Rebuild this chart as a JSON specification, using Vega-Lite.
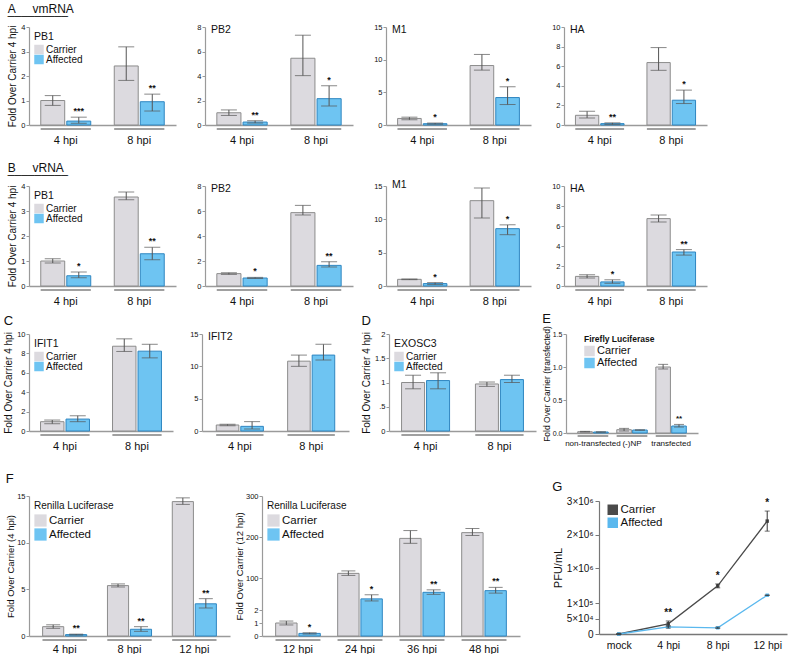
{
  "$schema": "https://vega.github.io/schema/vega-lite/v6.json",
  "padding": {"left": 3, "top": 3, "right": 5, "bottom": 0},
  "background": "white",
  "config": {
    "font": "Liberation Sans",
    "view": {"stroke": null},
    "axis": {"domainColor": "#9a9a9a", "tickColor": "#9a9a9a", "labelColor": "#111", "titleColor": "#111", "grid": false, "titleFontWeight": "normal", "labelOverlap": false},
    "axisY": {"labelFontSize": 7.5, "tickSize": 3, "labelPadding": 1, "titleFontSize": 10, "titlePadding": 3, "domainWidth": 1.2, "labelOverlap": false},
    "axisX": {"ticks": false, "labelFontSize": 11, "labelPadding": 9, "labelAngle": 0, "domainWidth": 1.5},
    "legend": {"orient": "top-left", "offset": 5, "titleFontSize": 10.5, "titleFontWeight": "normal", "titleColor": "#111", "labelFontSize": 10, "labelColor": "#111", "symbolType": "square", "symbolSize": 90, "rowPadding": 0, "titlePadding": 2, "symbolStrokeWidth": 0, "labelOffset": 2, "padding": 0},
    "title": {"fontWeight": "normal", "color": "#111", "anchor": "start"},
    "text": {"color": "#111"}
  },
  "datasets": {
    "bars": [
      {"p":"A-PB1","t":"4 hpi","g":"Carrier","m":1.0,"lo":0.8,"hi":1.2,"s":""},
      {"p":"A-PB1","t":"4 hpi","g":"Affected","m":0.16,"lo":0.07,"hi":0.32,"s":"***"},
      {"p":"A-PB1","t":"8 hpi","g":"Carrier","m":2.41,"lo":1.82,"hi":3.19,"s":""},
      {"p":"A-PB1","t":"8 hpi","g":"Affected","m":0.95,"lo":0.57,"hi":1.26,"s":"**"},
      {"p":"A-PB2","t":"4 hpi","g":"Carrier","m":1.0,"lo":0.78,"hi":1.23,"s":""},
      {"p":"A-PB2","t":"4 hpi","g":"Affected","m":0.24,"lo":0.16,"hi":0.35,"s":"**"},
      {"p":"A-PB2","t":"8 hpi","g":"Carrier","m":5.45,"lo":4.03,"hi":7.33,"s":""},
      {"p":"A-PB2","t":"8 hpi","g":"Affected","m":2.15,"lo":1.56,"hi":3.2,"s":"*"},
      {"p":"A-M1","t":"4 hpi","g":"Carrier","m":1.0,"lo":0.8,"hi":1.2,"s":""},
      {"p":"A-M1","t":"4 hpi","g":"Affected","m":0.2,"lo":0.12,"hi":0.3,"s":"*"},
      {"p":"A-M1","t":"8 hpi","g":"Carrier","m":9.1,"lo":8.4,"hi":10.8,"s":""},
      {"p":"A-M1","t":"8 hpi","g":"Affected","m":4.2,"lo":3.13,"hi":5.85,"s":"*"},
      {"p":"A-HA","t":"4 hpi","g":"Carrier","m":0.99,"lo":0.72,"hi":1.4,"s":""},
      {"p":"A-HA","t":"4 hpi","g":"Affected","m":0.14,"lo":0.06,"hi":0.22,"s":"**"},
      {"p":"A-HA","t":"8 hpi","g":"Carrier","m":6.37,"lo":5.58,"hi":7.9,"s":""},
      {"p":"A-HA","t":"8 hpi","g":"Affected","m":2.53,"lo":2.19,"hi":3.56,"s":"*"},
      {"p":"B-PB1","t":"4 hpi","g":"Carrier","m":1.0,"lo":0.92,"hi":1.09,"s":""},
      {"p":"B-PB1","t":"4 hpi","g":"Affected","m":0.41,"lo":0.33,"hi":0.56,"s":"*"},
      {"p":"B-PB1","t":"8 hpi","g":"Carrier","m":3.56,"lo":3.45,"hi":3.76,"s":""},
      {"p":"B-PB1","t":"8 hpi","g":"Affected","m":1.29,"lo":1.05,"hi":1.55,"s":"**"},
      {"p":"B-PB2","t":"4 hpi","g":"Carrier","m":0.99,"lo":0.93,"hi":1.06,"s":""},
      {"p":"B-PB2","t":"4 hpi","g":"Affected","m":0.64,"lo":0.6,"hi":0.69,"s":"*"},
      {"p":"B-PB2","t":"8 hpi","g":"Carrier","m":5.87,"lo":5.68,"hi":6.45,"s":""},
      {"p":"B-PB2","t":"8 hpi","g":"Affected","m":1.65,"lo":1.52,"hi":1.95,"s":"**"},
      {"p":"B-M1","t":"4 hpi","g":"Carrier","m":1.0,"lo":0.95,"hi":1.05,"s":""},
      {"p":"B-M1","t":"4 hpi","g":"Affected","m":0.36,"lo":0.21,"hi":0.51,"s":"*"},
      {"p":"B-M1","t":"8 hpi","g":"Carrier","m":12.8,"lo":10.2,"hi":14.7,"s":""},
      {"p":"B-M1","t":"8 hpi","g":"Affected","m":8.6,"lo":7.7,"hi":9.17,"s":"*"},
      {"p":"B-HA","t":"4 hpi","g":"Carrier","m":0.96,"lo":0.79,"hi":1.13,"s":""},
      {"p":"B-HA","t":"4 hpi","g":"Affected","m":0.41,"lo":0.27,"hi":0.62,"s":"*"},
      {"p":"B-HA","t":"8 hpi","g":"Carrier","m":6.74,"lo":6.4,"hi":7.1,"s":""},
      {"p":"B-HA","t":"8 hpi","g":"Affected","m":3.4,"lo":3.09,"hi":3.64,"s":"**"},
      {"p":"C-IFIT1","t":"4 hpi","g":"Carrier","m":0.96,"lo":0.75,"hi":1.13,"s":""},
      {"p":"C-IFIT1","t":"4 hpi","g":"Affected","m":1.23,"lo":0.96,"hi":1.57,"s":""},
      {"p":"C-IFIT1","t":"8 hpi","g":"Carrier","m":8.74,"lo":8.2,"hi":9.5,"s":""},
      {"p":"C-IFIT1","t":"8 hpi","g":"Affected","m":8.23,"lo":7.54,"hi":8.94,"s":""},
      {"p":"C-IFIT2","t":"4 hpi","g":"Carrier","m":0.93,"lo":0.83,"hi":1.03,"s":""},
      {"p":"C-IFIT2","t":"4 hpi","g":"Affected","m":0.72,"lo":0.31,"hi":1.45,"s":""},
      {"p":"C-IFIT2","t":"8 hpi","g":"Carrier","m":10.8,"lo":10.0,"hi":11.74,"s":""},
      {"p":"C-IFIT2","t":"8 hpi","g":"Affected","m":11.74,"lo":10.97,"hi":13.4,"s":""},
      {"p":"D","t":"4 hpi","g":"Carrier","m":1.0,"lo":0.87,"hi":1.15,"s":""},
      {"p":"D","t":"4 hpi","g":"Affected","m":1.04,"lo":0.87,"hi":1.2,"s":""},
      {"p":"D","t":"8 hpi","g":"Carrier","m":0.97,"lo":0.92,"hi":1.01,"s":""},
      {"p":"D","t":"8 hpi","g":"Affected","m":1.06,"lo":1.0,"hi":1.15,"s":""},
      {"p":"E","t":"non-transfected","g":"Carrier","m":0.02,"lo":0.015,"hi":0.025,"s":""},
      {"p":"E","t":"non-transfected","g":"Affected","m":0.015,"lo":0.012,"hi":0.018,"s":""},
      {"p":"E","t":"(-)NP","g":"Carrier","m":0.05,"lo":0.03,"hi":0.07,"s":""},
      {"p":"E","t":"(-)NP","g":"Affected","m":0.045,"lo":0.042,"hi":0.048,"s":""},
      {"p":"E","t":"transfected","g":"Carrier","m":1.0,"lo":0.97,"hi":1.04,"s":""},
      {"p":"E","t":"transfected","g":"Affected","m":0.106,"lo":0.09,"hi":0.13,"s":"**"},
      {"p":"F1","t":"4 hpi","g":"Carrier","m":1.0,"lo":0.82,"hi":1.2,"s":""},
      {"p":"F1","t":"4 hpi","g":"Affected","m":0.15,"lo":0.1,"hi":0.2,"s":"**"},
      {"p":"F1","t":"8 hpi","g":"Carrier","m":5.4,"lo":5.25,"hi":5.58,"s":""},
      {"p":"F1","t":"8 hpi","g":"Affected","m":0.72,"lo":0.5,"hi":1.0,"s":"**"},
      {"p":"F1","t":"12 hpi","g":"Carrier","m":14.4,"lo":14.1,"hi":14.8,"s":""},
      {"p":"F1","t":"12 hpi","g":"Affected","m":3.45,"lo":3.0,"hi":4.0,"s":"**"},
      {"p":"F2","t":"12 hpi","g":"Carrier","m":1.0,"lo":0.85,"hi":1.15,"s":""},
      {"p":"F2","t":"12 hpi","g":"Affected","m":0.2,"lo":0.15,"hi":0.25,"s":"*"},
      {"p":"F2","t":"24 hpi","g":"Carrier","m":112,"lo":107,"hi":118,"s":""},
      {"p":"F2","t":"24 hpi","g":"Affected","m":50,"lo":45,"hi":60,"s":"*"},
      {"p":"F2","t":"36 hpi","g":"Carrier","m":197,"lo":185,"hi":216,"s":""},
      {"p":"F2","t":"36 hpi","g":"Affected","m":66,"lo":61,"hi":72,"s":"**"},
      {"p":"F2","t":"48 hpi","g":"Carrier","m":211,"lo":204,"hi":221,"s":""},
      {"p":"F2","t":"48 hpi","g":"Affected","m":70,"lo":64,"hi":78,"s":"**"}
    ],
    "pfu": [
      {"t":"mock","g":"Carrier","v":0,"lo":0,"hi":0,"s":""},
      {"t":"4 hpi","g":"Carrier","v":33000,"lo":26000,"hi":42000,"s":"**"},
      {"t":"8 hpi","g":"Carrier","v":540000,"lo":490000,"hi":590000,"s":"*"},
      {"t":"12 hpi","g":"Carrier","v":2400000,"lo":2100000,"hi":2700000,"s":"*"},
      {"t":"mock","g":"Affected","v":0,"lo":0,"hi":0,"s":""},
      {"t":"4 hpi","g":"Affected","v":23000,"lo":19000,"hi":26000,"s":""},
      {"t":"8 hpi","g":"Affected","v":20000,"lo":18000,"hi":22000,"s":""},
      {"t":"12 hpi","g":"Affected","v":300000,"lo":295000,"hi":305000,"s":""}
    ]
  },
  "vconcat": [
    {
      "vconcat": [
        {
          "vconcat": [
            {
              "hconcat": [
                {
                  "width": 147, "height": 98,
                  "data": {"name": "bars"},
                  "transform": [{"filter": "datum.p == 'A-PB1'"}],
                  "title": {"text": "A\u00a0\u00a0\u00a0\u00a0\u00a0vmRNA", "subtitle": "\u00a0\u00a0\u00a0\u00a0\u00a0\u00a0\u00a0_________", "frame": "bounds", "fontSize": 12, "subtitleFontSize": 12, "subtitleColor": "#111", "subtitlePadding": -11, "offset": 6},
                  "encoding": {"x": {"field": "t", "type": "nominal", "sort": null, "title": null, "scale": {"paddingInner": 0.32, "paddingOuter": 0.16}}},
                  "layer": [
                    {"mark": {"type": "bar", "strokeWidth": 1}, "encoding": {
                      "xOffset": {"field": "g", "sort": ["Carrier", "Affected"], "scale": {"paddingInner": 0.08}},
                      "y": {"field": "m", "type": "quantitative", "scale": {"domain": [0, 4], "nice": false}, "axis": {"values": [0, 1, 2, 3, 4], "format": "d", "tickCount": 20, "labelOverlap": false, "title": "Fold Over Carrier 4 hpi"}},
                      "color": {"field": "g", "type": "nominal", "scale": {"domain": ["Carrier", "Affected"], "range": ["#dcdadf", "#6ec4f2"]}, "legend": {"title": "PB1"}},
                      "stroke": {"field": "g", "type": "nominal", "scale": {"domain": ["Carrier", "Affected"], "range": ["#8c8c8c", "#2f86c1"]}, "legend": null}}},
                    {"mark": {"type": "rule", "color": "#555"}, "encoding": {"xOffset": {"field": "g", "sort": ["Carrier", "Affected"]}, "y": {"field": "lo", "type": "quantitative"}, "y2": {"field": "hi"}}},
                    {"mark": {"type": "tick", "orient": "horizontal", "size": 16, "thickness": 1, "color": "#555"}, "encoding": {"xOffset": {"field": "g", "sort": ["Carrier", "Affected"]}, "y": {"field": "lo", "type": "quantitative"}}},
                    {"mark": {"type": "tick", "orient": "horizontal", "size": 16, "thickness": 1, "color": "#555"}, "encoding": {"xOffset": {"field": "g", "sort": ["Carrier", "Affected"]}, "y": {"field": "hi", "type": "quantitative"}}},
                    {"mark": {"type": "text", "baseline": "bottom", "dy": -1, "fontSize": 9, "fontWeight": "bold"}, "encoding": {"xOffset": {"field": "g", "sort": ["Carrier", "Affected"]}, "y": {"field": "hi", "type": "quantitative"}, "text": {"field": "s"}}},
                    {"mark": {"type": "bar", "width": {"band": 1}, "yOffset": 4, "y2Offset": 4, "fillOpacity": 0, "stroke": "#9a9a9a", "strokeWidth": 1.5}, "encoding": {"y": {"datum": 0, "type": "quantitative"}, "y2": {"datum": 0}}}
                  ]
                },
                {
                  "width": 148, "height": 98,
                  "data": {"name": "bars"},
                  "transform": [{"filter": "datum.p == 'A-PB2'"}],
                  "title": {"text": "PB2", "frame": "group", "fontSize": 10.5, "offset": -12, "dx": 6},
                  "encoding": {"x": {"field": "t", "type": "nominal", "sort": null, "title": null, "scale": {"paddingInner": 0.32, "paddingOuter": 0.16}}},
                  "layer": [
                    {"mark": {"type": "bar", "strokeWidth": 1}, "encoding": {
                      "xOffset": {"field": "g", "sort": ["Carrier", "Affected"], "scale": {"paddingInner": 0.08}},
                      "y": {"field": "m", "type": "quantitative", "scale": {"domain": [0, 8], "nice": false}, "axis": {"values": [0, 2, 4, 6, 8], "format": "d", "tickCount": 20, "labelOverlap": false, "title": null}},
                      "color": {"field": "g", "type": "nominal", "scale": {"domain": ["Carrier", "Affected"], "range": ["#dcdadf", "#6ec4f2"]}, "legend": null},
                      "stroke": {"field": "g", "type": "nominal", "scale": {"domain": ["Carrier", "Affected"], "range": ["#8c8c8c", "#2f86c1"]}, "legend": null}}},
                    {"mark": {"type": "rule", "color": "#555"}, "encoding": {"xOffset": {"field": "g", "sort": ["Carrier", "Affected"]}, "y": {"field": "lo", "type": "quantitative"}, "y2": {"field": "hi"}}},
                    {"mark": {"type": "tick", "orient": "horizontal", "size": 16, "thickness": 1, "color": "#555"}, "encoding": {"xOffset": {"field": "g", "sort": ["Carrier", "Affected"]}, "y": {"field": "lo", "type": "quantitative"}}},
                    {"mark": {"type": "tick", "orient": "horizontal", "size": 16, "thickness": 1, "color": "#555"}, "encoding": {"xOffset": {"field": "g", "sort": ["Carrier", "Affected"]}, "y": {"field": "hi", "type": "quantitative"}}},
                    {"mark": {"type": "text", "baseline": "bottom", "dy": -1, "fontSize": 9, "fontWeight": "bold"}, "encoding": {"xOffset": {"field": "g", "sort": ["Carrier", "Affected"]}, "y": {"field": "hi", "type": "quantitative"}, "text": {"field": "s"}}},
                    {"mark": {"type": "bar", "width": {"band": 1}, "yOffset": 4, "y2Offset": 4, "fillOpacity": 0, "stroke": "#9a9a9a", "strokeWidth": 1.5}, "encoding": {"y": {"datum": 0, "type": "quantitative"}, "y2": {"datum": 0}}}
                  ]
                },
                {
                  "width": 145, "height": 98,
                  "data": {"name": "bars"},
                  "transform": [{"filter": "datum.p == 'A-M1'"}],
                  "title": {"text": "M1", "frame": "group", "fontSize": 10.5, "offset": -12, "dx": 6},
                  "encoding": {"x": {"field": "t", "type": "nominal", "sort": null, "title": null, "scale": {"paddingInner": 0.32, "paddingOuter": 0.16}}},
                  "layer": [
                    {"mark": {"type": "bar", "strokeWidth": 1}, "encoding": {
                      "xOffset": {"field": "g", "sort": ["Carrier", "Affected"], "scale": {"paddingInner": 0.08}},
                      "y": {"field": "m", "type": "quantitative", "scale": {"domain": [0, 15], "nice": false}, "axis": {"values": [0, 5, 10, 15], "format": "d", "tickCount": 20, "labelOverlap": false, "title": null}},
                      "color": {"field": "g", "type": "nominal", "scale": {"domain": ["Carrier", "Affected"], "range": ["#dcdadf", "#6ec4f2"]}, "legend": null},
                      "stroke": {"field": "g", "type": "nominal", "scale": {"domain": ["Carrier", "Affected"], "range": ["#8c8c8c", "#2f86c1"]}, "legend": null}}},
                    {"mark": {"type": "rule", "color": "#555"}, "encoding": {"xOffset": {"field": "g", "sort": ["Carrier", "Affected"]}, "y": {"field": "lo", "type": "quantitative"}, "y2": {"field": "hi"}}},
                    {"mark": {"type": "tick", "orient": "horizontal", "size": 16, "thickness": 1, "color": "#555"}, "encoding": {"xOffset": {"field": "g", "sort": ["Carrier", "Affected"]}, "y": {"field": "lo", "type": "quantitative"}}},
                    {"mark": {"type": "tick", "orient": "horizontal", "size": 16, "thickness": 1, "color": "#555"}, "encoding": {"xOffset": {"field": "g", "sort": ["Carrier", "Affected"]}, "y": {"field": "hi", "type": "quantitative"}}},
                    {"mark": {"type": "text", "baseline": "bottom", "dy": -1, "fontSize": 9, "fontWeight": "bold"}, "encoding": {"xOffset": {"field": "g", "sort": ["Carrier", "Affected"]}, "y": {"field": "hi", "type": "quantitative"}, "text": {"field": "s"}}},
                    {"mark": {"type": "bar", "width": {"band": 1}, "yOffset": 4, "y2Offset": 4, "fillOpacity": 0, "stroke": "#9a9a9a", "strokeWidth": 1.5}, "encoding": {"y": {"datum": 0, "type": "quantitative"}, "y2": {"datum": 0}}}
                  ]
                },
                {
                  "width": 143, "height": 98,
                  "data": {"name": "bars"},
                  "transform": [{"filter": "datum.p == 'A-HA'"}],
                  "title": {"text": "HA", "frame": "group", "fontSize": 10.5, "offset": -12, "dx": 6},
                  "encoding": {"x": {"field": "t", "type": "nominal", "sort": null, "title": null, "scale": {"paddingInner": 0.32, "paddingOuter": 0.16}}},
                  "layer": [
                    {"mark": {"type": "bar", "strokeWidth": 1}, "encoding": {
                      "xOffset": {"field": "g", "sort": ["Carrier", "Affected"], "scale": {"paddingInner": 0.08}},
                      "y": {"field": "m", "type": "quantitative", "scale": {"domain": [0, 10], "nice": false}, "axis": {"values": [0, 2, 4, 6, 8, 10], "format": "d", "tickCount": 20, "labelOverlap": false, "title": null}},
                      "color": {"field": "g", "type": "nominal", "scale": {"domain": ["Carrier", "Affected"], "range": ["#dcdadf", "#6ec4f2"]}, "legend": null},
                      "stroke": {"field": "g", "type": "nominal", "scale": {"domain": ["Carrier", "Affected"], "range": ["#8c8c8c", "#2f86c1"]}, "legend": null}}},
                    {"mark": {"type": "rule", "color": "#555"}, "encoding": {"xOffset": {"field": "g", "sort": ["Carrier", "Affected"]}, "y": {"field": "lo", "type": "quantitative"}, "y2": {"field": "hi"}}},
                    {"mark": {"type": "tick", "orient": "horizontal", "size": 16, "thickness": 1, "color": "#555"}, "encoding": {"xOffset": {"field": "g", "sort": ["Carrier", "Affected"]}, "y": {"field": "lo", "type": "quantitative"}}},
                    {"mark": {"type": "tick", "orient": "horizontal", "size": 16, "thickness": 1, "color": "#555"}, "encoding": {"xOffset": {"field": "g", "sort": ["Carrier", "Affected"]}, "y": {"field": "hi", "type": "quantitative"}}},
                    {"mark": {"type": "text", "baseline": "bottom", "dy": -1, "fontSize": 9, "fontWeight": "bold"}, "encoding": {"xOffset": {"field": "g", "sort": ["Carrier", "Affected"]}, "y": {"field": "hi", "type": "quantitative"}, "text": {"field": "s"}}},
                    {"mark": {"type": "bar", "width": {"band": 1}, "yOffset": 4, "y2Offset": 4, "fillOpacity": 0, "stroke": "#9a9a9a", "strokeWidth": 1.5}, "encoding": {"y": {"datum": 0, "type": "quantitative"}, "y2": {"datum": 0}}}
                  ]
                }
              ],
              "spacing": 20,
              "resolve": {"scale": {"color": "independent", "stroke": "independent", "xOffset": "independent"}}
            },
            {
              "hconcat": [
                {
                  "width": 147, "height": 100,
                  "data": {"name": "bars"},
                  "transform": [{"filter": "datum.p == 'B-PB1'"}],
                  "title": {"text": "B\u00a0\u00a0\u00a0\u00a0\u00a0vRNA", "subtitle": "\u00a0\u00a0\u00a0\u00a0\u00a0\u00a0\u00a0_________", "frame": "bounds", "fontSize": 12, "subtitleFontSize": 12, "subtitleColor": "#111", "subtitlePadding": -11, "offset": 6},
                  "encoding": {"x": {"field": "t", "type": "nominal", "sort": null, "title": null, "scale": {"paddingInner": 0.32, "paddingOuter": 0.16}}},
                  "layer": [
                    {"mark": {"type": "bar", "strokeWidth": 1}, "encoding": {
                      "xOffset": {"field": "g", "sort": ["Carrier", "Affected"], "scale": {"paddingInner": 0.08}},
                      "y": {"field": "m", "type": "quantitative", "scale": {"domain": [0, 4], "nice": false}, "axis": {"values": [0, 1, 2, 3, 4], "format": "d", "tickCount": 20, "labelOverlap": false, "title": "Fold Over Carrier 4 hpi"}},
                      "color": {"field": "g", "type": "nominal", "scale": {"domain": ["Carrier", "Affected"], "range": ["#dcdadf", "#6ec4f2"]}, "legend": {"title": "PB1"}},
                      "stroke": {"field": "g", "type": "nominal", "scale": {"domain": ["Carrier", "Affected"], "range": ["#8c8c8c", "#2f86c1"]}, "legend": null}}},
                    {"mark": {"type": "rule", "color": "#555"}, "encoding": {"xOffset": {"field": "g", "sort": ["Carrier", "Affected"]}, "y": {"field": "lo", "type": "quantitative"}, "y2": {"field": "hi"}}},
                    {"mark": {"type": "tick", "orient": "horizontal", "size": 16, "thickness": 1, "color": "#555"}, "encoding": {"xOffset": {"field": "g", "sort": ["Carrier", "Affected"]}, "y": {"field": "lo", "type": "quantitative"}}},
                    {"mark": {"type": "tick", "orient": "horizontal", "size": 16, "thickness": 1, "color": "#555"}, "encoding": {"xOffset": {"field": "g", "sort": ["Carrier", "Affected"]}, "y": {"field": "hi", "type": "quantitative"}}},
                    {"mark": {"type": "text", "baseline": "bottom", "dy": -1, "fontSize": 9, "fontWeight": "bold"}, "encoding": {"xOffset": {"field": "g", "sort": ["Carrier", "Affected"]}, "y": {"field": "hi", "type": "quantitative"}, "text": {"field": "s"}}},
                    {"mark": {"type": "bar", "width": {"band": 1}, "yOffset": 4, "y2Offset": 4, "fillOpacity": 0, "stroke": "#9a9a9a", "strokeWidth": 1.5}, "encoding": {"y": {"datum": 0, "type": "quantitative"}, "y2": {"datum": 0}}}
                  ]
                },
                {
                  "width": 148, "height": 100,
                  "data": {"name": "bars"},
                  "transform": [{"filter": "datum.p == 'B-PB2'"}],
                  "title": {"text": "PB2", "frame": "group", "fontSize": 10.5, "offset": -12, "dx": 6},
                  "encoding": {"x": {"field": "t", "type": "nominal", "sort": null, "title": null, "scale": {"paddingInner": 0.32, "paddingOuter": 0.16}}},
                  "layer": [
                    {"mark": {"type": "bar", "strokeWidth": 1}, "encoding": {
                      "xOffset": {"field": "g", "sort": ["Carrier", "Affected"], "scale": {"paddingInner": 0.08}},
                      "y": {"field": "m", "type": "quantitative", "scale": {"domain": [0, 8], "nice": false}, "axis": {"values": [0, 2, 4, 6, 8], "format": "d", "tickCount": 20, "labelOverlap": false, "title": null}},
                      "color": {"field": "g", "type": "nominal", "scale": {"domain": ["Carrier", "Affected"], "range": ["#dcdadf", "#6ec4f2"]}, "legend": null},
                      "stroke": {"field": "g", "type": "nominal", "scale": {"domain": ["Carrier", "Affected"], "range": ["#8c8c8c", "#2f86c1"]}, "legend": null}}},
                    {"mark": {"type": "rule", "color": "#555"}, "encoding": {"xOffset": {"field": "g", "sort": ["Carrier", "Affected"]}, "y": {"field": "lo", "type": "quantitative"}, "y2": {"field": "hi"}}},
                    {"mark": {"type": "tick", "orient": "horizontal", "size": 16, "thickness": 1, "color": "#555"}, "encoding": {"xOffset": {"field": "g", "sort": ["Carrier", "Affected"]}, "y": {"field": "lo", "type": "quantitative"}}},
                    {"mark": {"type": "tick", "orient": "horizontal", "size": 16, "thickness": 1, "color": "#555"}, "encoding": {"xOffset": {"field": "g", "sort": ["Carrier", "Affected"]}, "y": {"field": "hi", "type": "quantitative"}}},
                    {"mark": {"type": "text", "baseline": "bottom", "dy": -1, "fontSize": 9, "fontWeight": "bold"}, "encoding": {"xOffset": {"field": "g", "sort": ["Carrier", "Affected"]}, "y": {"field": "hi", "type": "quantitative"}, "text": {"field": "s"}}},
                    {"mark": {"type": "bar", "width": {"band": 1}, "yOffset": 4, "y2Offset": 4, "fillOpacity": 0, "stroke": "#9a9a9a", "strokeWidth": 1.5}, "encoding": {"y": {"datum": 0, "type": "quantitative"}, "y2": {"datum": 0}}}
                  ]
                },
                {
                  "width": 145, "height": 100,
                  "data": {"name": "bars"},
                  "transform": [{"filter": "datum.p == 'B-M1'"}],
                  "title": {"text": "M1", "frame": "group", "fontSize": 10.5, "offset": -12, "dx": 6},
                  "encoding": {"x": {"field": "t", "type": "nominal", "sort": null, "title": null, "scale": {"paddingInner": 0.32, "paddingOuter": 0.16}}},
                  "layer": [
                    {"mark": {"type": "bar", "strokeWidth": 1}, "encoding": {
                      "xOffset": {"field": "g", "sort": ["Carrier", "Affected"], "scale": {"paddingInner": 0.08}},
                      "y": {"field": "m", "type": "quantitative", "scale": {"domain": [0, 15], "nice": false}, "axis": {"values": [0, 5, 10, 15], "format": "d", "tickCount": 20, "labelOverlap": false, "title": null}},
                      "color": {"field": "g", "type": "nominal", "scale": {"domain": ["Carrier", "Affected"], "range": ["#dcdadf", "#6ec4f2"]}, "legend": null},
                      "stroke": {"field": "g", "type": "nominal", "scale": {"domain": ["Carrier", "Affected"], "range": ["#8c8c8c", "#2f86c1"]}, "legend": null}}},
                    {"mark": {"type": "rule", "color": "#555"}, "encoding": {"xOffset": {"field": "g", "sort": ["Carrier", "Affected"]}, "y": {"field": "lo", "type": "quantitative"}, "y2": {"field": "hi"}}},
                    {"mark": {"type": "tick", "orient": "horizontal", "size": 16, "thickness": 1, "color": "#555"}, "encoding": {"xOffset": {"field": "g", "sort": ["Carrier", "Affected"]}, "y": {"field": "lo", "type": "quantitative"}}},
                    {"mark": {"type": "tick", "orient": "horizontal", "size": 16, "thickness": 1, "color": "#555"}, "encoding": {"xOffset": {"field": "g", "sort": ["Carrier", "Affected"]}, "y": {"field": "hi", "type": "quantitative"}}},
                    {"mark": {"type": "text", "baseline": "bottom", "dy": -1, "fontSize": 9, "fontWeight": "bold"}, "encoding": {"xOffset": {"field": "g", "sort": ["Carrier", "Affected"]}, "y": {"field": "hi", "type": "quantitative"}, "text": {"field": "s"}}},
                    {"mark": {"type": "bar", "width": {"band": 1}, "yOffset": 4, "y2Offset": 4, "fillOpacity": 0, "stroke": "#9a9a9a", "strokeWidth": 1.5}, "encoding": {"y": {"datum": 0, "type": "quantitative"}, "y2": {"datum": 0}}}
                  ]
                },
                {
                  "width": 143, "height": 100,
                  "data": {"name": "bars"},
                  "transform": [{"filter": "datum.p == 'B-HA'"}],
                  "title": {"text": "HA", "frame": "group", "fontSize": 10.5, "offset": -12, "dx": 6},
                  "encoding": {"x": {"field": "t", "type": "nominal", "sort": null, "title": null, "scale": {"paddingInner": 0.32, "paddingOuter": 0.16}}},
                  "layer": [
                    {"mark": {"type": "bar", "strokeWidth": 1}, "encoding": {
                      "xOffset": {"field": "g", "sort": ["Carrier", "Affected"], "scale": {"paddingInner": 0.08}},
                      "y": {"field": "m", "type": "quantitative", "scale": {"domain": [0, 10], "nice": false}, "axis": {"values": [0, 2, 4, 6, 8, 10], "format": "d", "tickCount": 20, "labelOverlap": false, "title": null}},
                      "color": {"field": "g", "type": "nominal", "scale": {"domain": ["Carrier", "Affected"], "range": ["#dcdadf", "#6ec4f2"]}, "legend": null},
                      "stroke": {"field": "g", "type": "nominal", "scale": {"domain": ["Carrier", "Affected"], "range": ["#8c8c8c", "#2f86c1"]}, "legend": null}}},
                    {"mark": {"type": "rule", "color": "#555"}, "encoding": {"xOffset": {"field": "g", "sort": ["Carrier", "Affected"]}, "y": {"field": "lo", "type": "quantitative"}, "y2": {"field": "hi"}}},
                    {"mark": {"type": "tick", "orient": "horizontal", "size": 16, "thickness": 1, "color": "#555"}, "encoding": {"xOffset": {"field": "g", "sort": ["Carrier", "Affected"]}, "y": {"field": "lo", "type": "quantitative"}}},
                    {"mark": {"type": "tick", "orient": "horizontal", "size": 16, "thickness": 1, "color": "#555"}, "encoding": {"xOffset": {"field": "g", "sort": ["Carrier", "Affected"]}, "y": {"field": "hi", "type": "quantitative"}}},
                    {"mark": {"type": "text", "baseline": "bottom", "dy": -1, "fontSize": 9, "fontWeight": "bold"}, "encoding": {"xOffset": {"field": "g", "sort": ["Carrier", "Affected"]}, "y": {"field": "hi", "type": "quantitative"}, "text": {"field": "s"}}},
                    {"mark": {"type": "bar", "width": {"band": 1}, "yOffset": 4, "y2Offset": 4, "fillOpacity": 0, "stroke": "#9a9a9a", "strokeWidth": 1.5}, "encoding": {"y": {"datum": 0, "type": "quantitative"}, "y2": {"datum": 0}}}
                  ]
                }
              ],
              "spacing": 20,
              "resolve": {"scale": {"color": "independent", "stroke": "independent", "xOffset": "independent"}}
            }
          ],
          "spacing": 17,
          "resolve": {"scale": {"color": "independent", "stroke": "independent", "xOffset": "independent"}}
        },
        {
          "hconcat": [
            {
              "hconcat": [
                {
                  "hconcat": [
                    {
                      "width": 144, "height": 97,
                      "data": {"name": "bars"},
                      "transform": [{"filter": "datum.p == 'C-IFIT1'"}],
                      "title": {"text": "C", "frame": "bounds", "fontSize": 13, "offset": 2},
                      "encoding": {"x": {"field": "t", "type": "nominal", "sort": null, "title": null, "scale": {"paddingInner": 0.32, "paddingOuter": 0.16}}},
                      "layer": [
                        {"mark": {"type": "bar", "strokeWidth": 1}, "encoding": {
                          "xOffset": {"field": "g", "sort": ["Carrier", "Affected"], "scale": {"paddingInner": 0.08}},
                          "y": {"field": "m", "type": "quantitative", "scale": {"domain": [0, 10], "nice": false}, "axis": {"values": [0, 2, 4, 6, 8, 10], "format": "d", "tickCount": 20, "labelOverlap": false, "title": "Fold Over Carrier 4 hpi"}},
                          "color": {"field": "g", "type": "nominal", "scale": {"domain": ["Carrier", "Affected"], "range": ["#dcdadf", "#6ec4f2"]}, "legend": {"title": "IFIT1"}},
                          "stroke": {"field": "g", "type": "nominal", "scale": {"domain": ["Carrier", "Affected"], "range": ["#8c8c8c", "#2f86c1"]}, "legend": null}}},
                        {"mark": {"type": "rule", "color": "#555"}, "encoding": {"xOffset": {"field": "g", "sort": ["Carrier", "Affected"]}, "y": {"field": "lo", "type": "quantitative"}, "y2": {"field": "hi"}}},
                        {"mark": {"type": "tick", "orient": "horizontal", "size": 16, "thickness": 1, "color": "#555"}, "encoding": {"xOffset": {"field": "g", "sort": ["Carrier", "Affected"]}, "y": {"field": "lo", "type": "quantitative"}}},
                        {"mark": {"type": "tick", "orient": "horizontal", "size": 16, "thickness": 1, "color": "#555"}, "encoding": {"xOffset": {"field": "g", "sort": ["Carrier", "Affected"]}, "y": {"field": "hi", "type": "quantitative"}}},
                        {"mark": {"type": "bar", "width": {"band": 1}, "yOffset": 4, "y2Offset": 4, "fillOpacity": 0, "stroke": "#9a9a9a", "strokeWidth": 1.5}, "encoding": {"y": {"datum": 0, "type": "quantitative"}, "y2": {"datum": 0}}}
                      ]
                    },
                    {
                      "width": 147, "height": 97,
                      "data": {"name": "bars"},
                      "transform": [{"filter": "datum.p == 'C-IFIT2'"}],
                      "title": {"text": "IFIT2", "frame": "group", "fontSize": 10.5, "offset": -12, "dx": 6},
                      "encoding": {"x": {"field": "t", "type": "nominal", "sort": null, "title": null, "scale": {"paddingInner": 0.34, "paddingOuter": 0.2}}},
                      "layer": [
                        {"mark": {"type": "bar", "strokeWidth": 1}, "encoding": {
                          "xOffset": {"field": "g", "sort": ["Carrier", "Affected"], "scale": {"paddingInner": 0.08}},
                          "y": {"field": "m", "type": "quantitative", "scale": {"domain": [0, 15], "nice": false}, "axis": {"values": [0, 5, 10, 15], "format": "d", "tickCount": 20, "labelOverlap": false, "title": null}},
                          "color": {"field": "g", "type": "nominal", "scale": {"domain": ["Carrier", "Affected"], "range": ["#dcdadf", "#6ec4f2"]}, "legend": null},
                          "stroke": {"field": "g", "type": "nominal", "scale": {"domain": ["Carrier", "Affected"], "range": ["#8c8c8c", "#2f86c1"]}, "legend": null}}},
                        {"mark": {"type": "rule", "color": "#555"}, "encoding": {"xOffset": {"field": "g", "sort": ["Carrier", "Affected"]}, "y": {"field": "lo", "type": "quantitative"}, "y2": {"field": "hi"}}},
                        {"mark": {"type": "tick", "orient": "horizontal", "size": 16, "thickness": 1, "color": "#555"}, "encoding": {"xOffset": {"field": "g", "sort": ["Carrier", "Affected"]}, "y": {"field": "lo", "type": "quantitative"}}},
                        {"mark": {"type": "tick", "orient": "horizontal", "size": 16, "thickness": 1, "color": "#555"}, "encoding": {"xOffset": {"field": "g", "sort": ["Carrier", "Affected"]}, "y": {"field": "hi", "type": "quantitative"}}},
                        {"mark": {"type": "bar", "width": {"band": 1}, "yOffset": 4, "y2Offset": 4, "fillOpacity": 0, "stroke": "#9a9a9a", "strokeWidth": 1.5}, "encoding": {"y": {"datum": 0, "type": "quantitative"}, "y2": {"datum": 0}}}
                      ]
                    }
                  ],
                  "spacing": 16,
                  "resolve": {"scale": {"color": "independent", "stroke": "independent", "xOffset": "independent"}}
                },
                {
                  "width": 147, "height": 97,
                  "data": {"name": "bars"},
                  "transform": [{"filter": "datum.p == 'D'"}],
                  "title": {"text": "D", "frame": "bounds", "fontSize": 13, "offset": 2},
                  "encoding": {"x": {"field": "t", "type": "nominal", "sort": null, "title": null, "scale": {"paddingInner": 0.35, "paddingOuter": 0.17}}},
                  "layer": [
                    {"mark": {"type": "bar", "strokeWidth": 1}, "encoding": {
                      "xOffset": {"field": "g", "sort": ["Carrier", "Affected"], "scale": {"paddingInner": 0.08}},
                      "y": {"field": "m", "type": "quantitative", "scale": {"domain": [0, 2], "nice": false}, "axis": {"values": [0, 0.5, 1, 1.5, 2], "tickCount": 20, "labelOverlap": false, "labelExpr": "datum.value == 0.5 ? '.5' : '' + datum.value", "title": "Fold Over Carrier 4 hpi"}},
                      "color": {"field": "g", "type": "nominal", "scale": {"domain": ["Carrier", "Affected"], "range": ["#dcdadf", "#6ec4f2"]}, "legend": {"title": "EXOSC3"}},
                      "stroke": {"field": "g", "type": "nominal", "scale": {"domain": ["Carrier", "Affected"], "range": ["#8c8c8c", "#2f86c1"]}, "legend": null}}},
                    {"mark": {"type": "rule", "color": "#555"}, "encoding": {"xOffset": {"field": "g", "sort": ["Carrier", "Affected"]}, "y": {"field": "lo", "type": "quantitative"}, "y2": {"field": "hi"}}},
                    {"mark": {"type": "tick", "orient": "horizontal", "size": 16, "thickness": 1, "color": "#555"}, "encoding": {"xOffset": {"field": "g", "sort": ["Carrier", "Affected"]}, "y": {"field": "lo", "type": "quantitative"}}},
                    {"mark": {"type": "tick", "orient": "horizontal", "size": 16, "thickness": 1, "color": "#555"}, "encoding": {"xOffset": {"field": "g", "sort": ["Carrier", "Affected"]}, "y": {"field": "hi", "type": "quantitative"}}},
                    {"mark": {"type": "bar", "width": {"band": 1}, "yOffset": 4, "y2Offset": 4, "fillOpacity": 0, "stroke": "#9a9a9a", "strokeWidth": 1.5}, "encoding": {"y": {"datum": 0, "type": "quantitative"}, "y2": {"datum": 0}}}
                  ]
                }
              ],
              "spacing": 12,
              "resolve": {"scale": {"color": "independent", "stroke": "independent", "xOffset": "independent"}}
            },
            {
              "width": 132, "height": 99,
              "data": {"name": "bars"},
              "transform": [{"filter": "datum.p == 'E'"}],
              "title": {"text": "E", "frame": "bounds", "fontSize": 13, "offset": 0},
              "encoding": {"x": {"field": "t", "type": "nominal", "sort": null, "title": null, "axis": {"labelFontSize": 8, "labelPadding": 6}, "scale": {"paddingInner": 0.22, "paddingOuter": 0.3}}},
              "layer": [
                {"mark": {"type": "bar", "strokeWidth": 1}, "encoding": {
                  "xOffset": {"field": "g", "sort": ["Carrier", "Affected"], "scale": {"paddingInner": 0.08}},
                  "y": {"field": "m", "type": "quantitative", "scale": {"domain": [0, 1.5], "nice": false}, "axis": {"values": [0, 0.5, 1, 1.5], "tickCount": 20, "labelOverlap": false, "format": ".1f", "labelFontSize": 7, "title": "Fold Over Carrier (transfected)", "titleFontSize": 8.5, "titlePadding": 1}},
                  "color": {"field": "g", "type": "nominal", "scale": {"domain": ["Carrier", "Affected"], "range": ["#dcdadf", "#6ec4f2"]}, "legend": {"title": "Firefly Luciferase", "titleFontSize": 8.5, "titleFontWeight": "bold", "labelFontSize": 11, "symbolSize": 110, "orient": "none", "legendX": 18, "legendY": 1}},
                  "stroke": {"field": "g", "type": "nominal", "scale": {"domain": ["Carrier", "Affected"], "range": ["#8c8c8c", "#2f86c1"]}, "legend": null}}},
                {"mark": {"type": "rule", "color": "#555"}, "encoding": {"xOffset": {"field": "g", "sort": ["Carrier", "Affected"]}, "y": {"field": "lo", "type": "quantitative"}, "y2": {"field": "hi"}}},
                {"mark": {"type": "tick", "orient": "horizontal", "size": 10, "thickness": 1, "color": "#555"}, "encoding": {"xOffset": {"field": "g", "sort": ["Carrier", "Affected"]}, "y": {"field": "lo", "type": "quantitative"}}},
                {"mark": {"type": "tick", "orient": "horizontal", "size": 10, "thickness": 1, "color": "#555"}, "encoding": {"xOffset": {"field": "g", "sort": ["Carrier", "Affected"]}, "y": {"field": "hi", "type": "quantitative"}}},
                {"mark": {"type": "text", "baseline": "bottom", "dy": -1, "fontSize": 8, "fontWeight": "bold"}, "encoding": {"xOffset": {"field": "g", "sort": ["Carrier", "Affected"]}, "y": {"field": "hi", "type": "quantitative"}, "text": {"field": "s"}}},
                {"mark": {"type": "bar", "width": {"band": 1}, "yOffset": 3, "y2Offset": 3, "fillOpacity": 0, "stroke": "#9a9a9a", "strokeWidth": 1.5}, "encoding": {"y": {"datum": 0, "type": "quantitative"}, "y2": {"datum": 0}}}
              ]
            }
          ],
          "spacing": 6,
          "resolve": {"scale": {"color": "independent", "stroke": "independent", "xOffset": "independent"}}
        }
      ],
      "spacing": 6,
      "resolve": {"scale": {"color": "independent", "stroke": "independent", "xOffset": "independent"}}
    },
    {
      "hconcat": [
        {
          "hconcat": [
            {
              "width": 201, "height": 140,
              "data": {"name": "bars"},
              "transform": [{"filter": "datum.p == 'F1'"}],
              "title": {"text": "F", "frame": "bounds", "fontSize": 13, "offset": 2},
              "encoding": {"x": {"field": "t", "type": "nominal", "sort": null, "title": null, "axis": {"labelPadding": 7}, "scale": {"paddingInner": 0.32, "paddingOuter": 0.21}}},
              "layer": [
                {"mark": {"type": "bar", "strokeWidth": 1}, "encoding": {
                  "xOffset": {"field": "g", "sort": ["Carrier", "Affected"], "scale": {"paddingInner": 0.08}},
                  "y": {"field": "m", "type": "quantitative", "scale": {"domain": [0, 15], "nice": false}, "axis": {"values": [0, 5, 10, 15], "format": "d", "tickCount": 20, "labelOverlap": false, "title": "Fold Over Carrier (4 hpi)", "titleFontSize": 9.5, "titlePadding": 1}},
                  "color": {"field": "g", "type": "nominal", "scale": {"domain": ["Carrier", "Affected"], "range": ["#dcdadf", "#6ec4f2"]}, "legend": {"title": "Renilla Luciferase", "titleFontSize": 10, "labelFontSize": 11.5, "symbolSize": 150, "rowPadding": 1, "titlePadding": 3}},
                  "stroke": {"field": "g", "type": "nominal", "scale": {"domain": ["Carrier", "Affected"], "range": ["#8c8c8c", "#2f86c1"]}, "legend": null}}},
                {"mark": {"type": "rule", "color": "#555"}, "encoding": {"xOffset": {"field": "g", "sort": ["Carrier", "Affected"]}, "y": {"field": "lo", "type": "quantitative"}, "y2": {"field": "hi"}}},
                {"mark": {"type": "tick", "orient": "horizontal", "size": 14, "thickness": 1, "color": "#555"}, "encoding": {"xOffset": {"field": "g", "sort": ["Carrier", "Affected"]}, "y": {"field": "lo", "type": "quantitative"}}},
                {"mark": {"type": "tick", "orient": "horizontal", "size": 14, "thickness": 1, "color": "#555"}, "encoding": {"xOffset": {"field": "g", "sort": ["Carrier", "Affected"]}, "y": {"field": "hi", "type": "quantitative"}}},
                {"mark": {"type": "text", "baseline": "bottom", "dy": -1, "fontSize": 9, "fontWeight": "bold"}, "encoding": {"xOffset": {"field": "g", "sort": ["Carrier", "Affected"]}, "y": {"field": "hi", "type": "quantitative"}, "text": {"field": "s"}}},
                {"mark": {"type": "bar", "width": {"band": 1}, "yOffset": 4, "y2Offset": 4, "fillOpacity": 0, "stroke": "#9a9a9a", "strokeWidth": 1.5}, "encoding": {"y": {"datum": 0, "type": "quantitative"}, "y2": {"datum": 0}}}
              ]
            },
            {
              "width": 258, "height": 140,
              "data": {"name": "bars"},
              "transform": [{"filter": "datum.p == 'F2'"}],
              "encoding": {"x": {"field": "t", "type": "nominal", "sort": null, "title": null, "axis": {"labelPadding": 7}, "scale": {"paddingInner": 0.28, "paddingOuter": 0.22}}},
              "layer": [
                {"mark": {"type": "bar", "strokeWidth": 1}, "encoding": {
                  "xOffset": {"field": "g", "sort": ["Carrier", "Affected"], "scale": {"paddingInner": 0.08}},
                  "y": {"field": "m", "type": "quantitative", "scale": {"domain": [0, 2, 40, 300], "range": [140, 114, 107, 0], "nice": false}, "axis": {"values": [0, 1, 2, 100, 200, 300], "format": "d", "tickCount": 20, "labelOverlap": false, "title": "Fold Over Carrier (12 hpi)", "titleFontSize": 9.5, "titlePadding": 1}},
                  "color": {"field": "g", "type": "nominal", "scale": {"domain": ["Carrier", "Affected"], "range": ["#dcdadf", "#6ec4f2"]}, "legend": {"title": "Renilla Luciferase", "titleFontSize": 10, "labelFontSize": 11.5, "symbolSize": 150, "rowPadding": 1, "titlePadding": 3}},
                  "stroke": {"field": "g", "type": "nominal", "scale": {"domain": ["Carrier", "Affected"], "range": ["#8c8c8c", "#2f86c1"]}, "legend": null}}},
                {"mark": {"type": "rule", "color": "#555"}, "encoding": {"xOffset": {"field": "g", "sort": ["Carrier", "Affected"]}, "y": {"field": "lo", "type": "quantitative"}, "y2": {"field": "hi"}}},
                {"mark": {"type": "tick", "orient": "horizontal", "size": 14, "thickness": 1, "color": "#555"}, "encoding": {"xOffset": {"field": "g", "sort": ["Carrier", "Affected"]}, "y": {"field": "lo", "type": "quantitative"}}},
                {"mark": {"type": "tick", "orient": "horizontal", "size": 14, "thickness": 1, "color": "#555"}, "encoding": {"xOffset": {"field": "g", "sort": ["Carrier", "Affected"]}, "y": {"field": "hi", "type": "quantitative"}}},
                {"mark": {"type": "text", "baseline": "bottom", "dy": -1, "fontSize": 9, "fontWeight": "bold"}, "encoding": {"xOffset": {"field": "g", "sort": ["Carrier", "Affected"]}, "y": {"field": "hi", "type": "quantitative"}, "text": {"field": "s"}}},
                {"mark": {"type": "bar", "width": {"band": 1}, "yOffset": 4, "y2Offset": 4, "fillOpacity": 0, "stroke": "#9a9a9a", "strokeWidth": 1.5}, "encoding": {"y": {"datum": 0, "type": "quantitative"}, "y2": {"datum": 0}}}
              ]
            }
          ],
          "spacing": 4,
          "resolve": {"scale": {"color": "independent", "stroke": "independent", "xOffset": "independent"}}
        },
        {
          "width": 188, "height": 138,
          "data": {"name": "pfu"},
          "title": {"text": "G", "frame": "bounds", "fontSize": 13, "offset": 2},
          "encoding": {"x": {"field": "t", "type": "nominal", "sort": ["mock", "4 hpi", "8 hpi", "12 hpi"], "title": null, "axis": {"labelFontSize": 10.5, "labelPadding": 6, "domainColor": "#777"}, "scale": {"type": "point", "padding": 0.4}}},
          "layer": [
            {"mark": {"type": "point", "shape": "square", "filled": true, "size": 12, "opacity": 1}, "encoding": {
              "y": {"field": "v", "type": "quantitative", "scale": {"domain": [0, 100000, 1000000, 3000000], "range": [138, 107, 72, 5], "nice": false}, "axis": {"values": [0, 50000, 100000, 1000000, 2000000, 3000000], "tickCount": 20, "labelOverlap": false, "labelExpr": "datum.value == 0 ? '0' : datum.value == 50000 ? '5×10⁴' : datum.value == 100000 ? '1×10⁵' : datum.value == 1000000 ? '1×10⁶' : datum.value == 2000000 ? '2×10⁶' : '3×10⁶'", "title": "PFU/mL", "titleFontSize": 11, "labelFontSize": 10, "domainColor": "#777", "tickColor": "#777", "tickSize": 4, "labelPadding": 2}},
              "color": {"field": "g", "type": "nominal", "scale": {"domain": ["Carrier", "Affected"], "range": ["#4a4a4a", "#5ab8ee"]}, "legend": {"title": null, "symbolType": "square", "symbolSize": 110, "labelFontSize": 11.5, "rowPadding": 0, "offset": 8}}}},
            {"mark": {"type": "line", "strokeWidth": 1.3}, "encoding": {
              "y": {"field": "v", "type": "quantitative"},
              "color": {"field": "g", "type": "nominal", "scale": {"domain": ["Carrier", "Affected"], "range": ["#4a4a4a", "#5ab8ee"]}, "legend": {"title": null, "symbolType": "square", "symbolSize": 110, "labelFontSize": 11.5, "rowPadding": 0, "offset": 8}}}},
            {"mark": {"type": "rule", "color": "#333"}, "encoding": {"y": {"field": "lo", "type": "quantitative"}, "y2": {"field": "hi"}}},
            {"mark": {"type": "tick", "orient": "horizontal", "size": 5, "thickness": 1, "color": "#333"}, "encoding": {"y": {"field": "lo", "type": "quantitative"}}},
            {"mark": {"type": "tick", "orient": "horizontal", "size": 5, "thickness": 1, "color": "#333"}, "encoding": {"y": {"field": "hi", "type": "quantitative"}}},
            {"mark": {"type": "text", "baseline": "bottom", "dy": -3, "fontSize": 10, "fontWeight": "bold"}, "encoding": {"y": {"field": "hi", "type": "quantitative"}, "text": {"field": "s"}}}
          ]
        }
      ],
      "spacing": 32,
      "resolve": {"scale": {"color": "independent", "stroke": "independent", "xOffset": "independent"}}
    }
  ],
  "spacing": 21,
  "resolve": {"scale": {"color": "independent", "stroke": "independent", "xOffset": "independent"}}
}
